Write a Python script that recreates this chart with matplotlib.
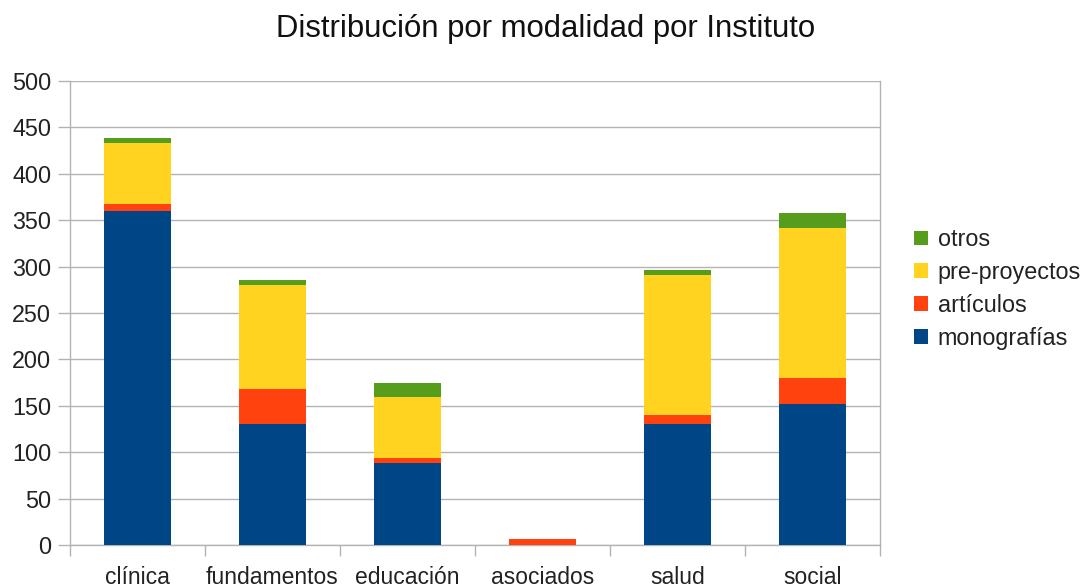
import matplotlib
matplotlib.use('Agg')
import matplotlib.pyplot as plt
import numpy as np

plt.rcParams['font.family'] = ['Liberation Sans', 'DejaVu Sans']

institutos = ['clínica', 'fundamentos', 'educación', 'asociados', 'salud', 'social']
monografias = [360, 130, 88, 0, 130, 152]
articulos = [7, 38, 6, 7, 10, 28]
preproyectos = [66, 112, 66, 0, 151, 162]
otros = [6, 6, 15, 0, 5, 16]

series = [('monografías', monografias, '#004586'),
          ('artículos', articulos, '#ff420e'),
          ('pre-proyectos', preproyectos, '#ffd320'),
          ('otros', otros, '#579d1c')]

fig = plt.figure(figsize=(10.81, 5.88), dpi=100)
ax = fig.add_axes([70/1081, 1-545/588, 810/1081, 464/588])

x = np.arange(len(institutos))
bottom = np.zeros(len(institutos))
handles = []
for name, vals, col in series:
    vals = np.array(vals, dtype=float)
    b = ax.bar(x, vals, 0.5, bottom=bottom, color=col, label=name, zorder=3)
    bottom += vals
    handles.append(b)

ax.set_xlim(-0.5, len(institutos)-0.5)
ax.set_ylim(0, 500)
ax.set_yticks(np.arange(0, 501, 50))
ax.yaxis.grid(True, color='#b3b3b3', lw=1, zorder=0)
ax.set_axisbelow(True)

ax.set_xticks(x)
ax.set_xticklabels(institutos)
ax.set_xticks(np.arange(-0.5, len(institutos), 1), minor=True)
ax.tick_params(axis='x', which='major', length=0, pad=15, labelsize=16.5, labelcolor='#222222')
ax.tick_params(axis='x', which='minor', length=8, color='#b3b3b3', width=1)
ax.tick_params(axis='y', length=8.5, color='#b3b3b3', width=1, pad=5, labelsize=16.8, labelcolor='#222222')

for s in ['left', 'bottom', 'right']:
    ax.spines[s].set_color('#b3b3b3')
    ax.spines[s].set_linewidth(1)
ax.spines['top'].set_visible(False)

fig.suptitle('Distribución por modalidad por Instituto', x=546/1081, y=1-29/588,
             va='center', fontsize=22.4, color='#111111')

leg = ax.legend(handles[::-1], [s[0] for s in series][::-1], loc='center left',
                bbox_to_anchor=(905/1081, 1-289/588), bbox_transform=fig.transFigure,
                frameon=False, fontsize=16.8, handlelength=0.6, handleheight=0.6,
                handletextpad=0.4, labelspacing=0.42, borderaxespad=0)
for t in leg.get_texts():
    t.set_color('#222222')

fig.savefig('out.png', dpi=100)
